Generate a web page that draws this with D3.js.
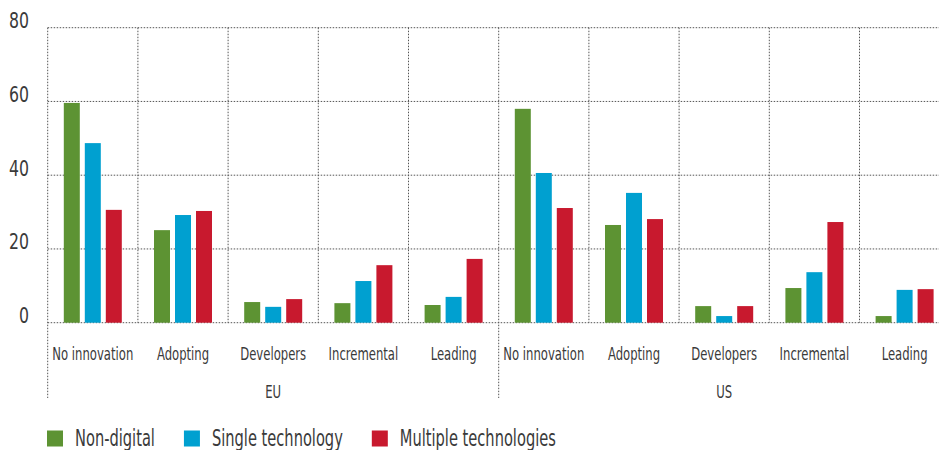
<!DOCTYPE html>
<html>
<head>
<meta charset="utf-8">
<script src="https://cdn.jsdelivr.net/npm/d3@7"></script>
<style>
  html, body { margin: 0; padding: 0; background: #fff; }
  svg { display: block; }
  text { font-family: "Liberation Sans Narrow", "DejaVu Sans Condensed", "Roboto", sans-serif; fill: #3a3a3a; }
</style>
</head>
<body>
<svg id="chart" width="939" height="450"></svg>
<script>
const groups = ["EU", "US"];
const categories = ["No innovation", "Adopting", "Developers", "Incremental", "Leading"];
const seriesNames = ["Non-digital", "Single technology", "Multiple technologies"];
const seriesColors = ["#5d9333", "#00a0d0", "#c8192e"];
const yTicks = [0, 20, 40, 60, 80];

// values ordered EU (5 categories) then US (5 categories)
const nonDigital = [59.6, 25.1, 5.6, 5.3, 4.8, 58.0, 26.5, 4.5, 9.4, 1.8];
const singleTech = [48.7, 29.2, 4.3, 11.3, 7.0, 40.6, 35.2, 1.8, 13.7, 8.9];
const multipleTech = [30.6, 30.3, 6.4, 15.6, 17.3, 31.1, 28.1, 4.5, 27.3, 9.1];

const seriesValues = [nonDigital, singleTech, multipleTech];

(function () {
const svg = d3.select("#chart");
const W = 939;
const plotLeft = 47.7, plotTop = 27.7, zeroY = 322.7, groupBottom = 398;
const catWidth = 90.2;

// horizontal squeeze so the condensed look of the original is matched
function measure(fontSize, sample) {
  const t = svg.append("text").attr("font-size", fontSize).text(sample);
  const w = t.node().getComputedTextLength();
  t.remove();
  return w;
}
function squeeze(fontSize, sample, targetWidth) {
  const w = measure(fontSize, sample);
  return w > 0 ? targetWidth / w : 1;
}

const keys = [];
groups.forEach(g => categories.forEach(c => keys.push(g + "|" + c)));

const x0 = d3.scaleBand().domain(keys).range([plotLeft, plotLeft + catWidth * keys.length]).padding(0);
const innerW = 58;
const x1 = d3.scaleBand().domain(seriesNames).range([0, innerW]).paddingInner(5 / 21).paddingOuter(0);
const y = d3.scaleLinear().domain([0, 80]).range([zeroY, plotTop]);

const gridColor = "#555";
const dash = "1.5,1.5";

// horizontal grid
svg.append("g").selectAll("line").data(yTicks).join("line")
  .attr("x1", plotLeft).attr("x2", W)
  .attr("y1", d => y(d)).attr("y2", d => y(d))
  .attr("stroke", gridColor).attr("stroke-width", 1).attr("stroke-dasharray", dash);

// vertical dividers
const groupStarts = groups.map(g => g + "|" + categories[0]);
svg.append("g").selectAll("line").data(keys).join("line")
  .attr("x1", d => x0(d)).attr("x2", d => x0(d))
  .attr("y1", plotTop)
  .attr("y2", d => groupStarts.includes(d) ? groupBottom : zeroY)
  .attr("stroke", gridColor).attr("stroke-width", 1).attr("stroke-dasharray", dash);

// y tick labels
const tickFs = 22;
const tickSx = squeeze(tickFs, "80", 20);
svg.append("g").selectAll("text").data(yTicks).join("text")
  .attr("transform", d => `translate(29,${y(d) + 0.5}) scale(${tickSx},1)`)
  .attr("text-anchor", "end")
  .attr("font-size", tickFs)
  .text(d => d);

// bars
const barsG = svg.append("g");
keys.forEach((k, i) => {
  const off = x0(k) + (x0.bandwidth() - innerW) / 2;
  seriesNames.forEach((s, j) => {
    const v = seriesValues[j][i];
    barsG.append("rect")
      .attr("x", off + x1(s))
      .attr("y", y(v))
      .attr("width", x1.bandwidth())
      .attr("height", zeroY - y(v))
      .attr("fill", seriesColors[j]);
  });
});

// category labels
const catFs = 17.5;
const catSx = squeeze(catFs, "No innovation", 81);
svg.append("g").selectAll("text").data(keys).join("text")
  .attr("transform", d => `translate(${x0(d) + x0.bandwidth() / 2},359.5) scale(${catSx},1)`)
  .attr("text-anchor", "middle")
  .attr("font-size", catFs)
  .text(d => d.split("|")[1]);

// group labels
svg.append("g").selectAll("text").data(groups).join("text")
  .attr("transform", g => {
    const a = x0(g + "|" + categories[0]);
    const b = x0(g + "|" + categories[categories.length - 1]) + x0.bandwidth();
    return `translate(${(a + b) / 2},398) scale(${catSx},1)`;
  })
  .attr("text-anchor", "middle")
  .attr("font-size", catFs)
  .text(g => g);

// legend
const legFs = 23.5;
const legTotal = d3.sum(seriesNames, s => measure(legFs, s));
const legSx = legTotal > 0 ? 367 / legTotal : 1;
const leg = svg.append("g");
let lx = 47;
seriesNames.forEach((s, j) => {
  leg.append("rect").attr("x", lx).attr("y", 430.5).attr("width", 16).attr("height", 16).attr("fill", seriesColors[j]);
  const t = leg.append("text")
    .attr("transform", `translate(${lx + 28},445.5) scale(${legSx},1)`)
    .attr("font-size", legFs)
    .text(s);
  const w = t.node().getComputedTextLength() * legSx;
  lx = lx + 28 + w + 29;
});
})();
</script>
</body>
</html>
